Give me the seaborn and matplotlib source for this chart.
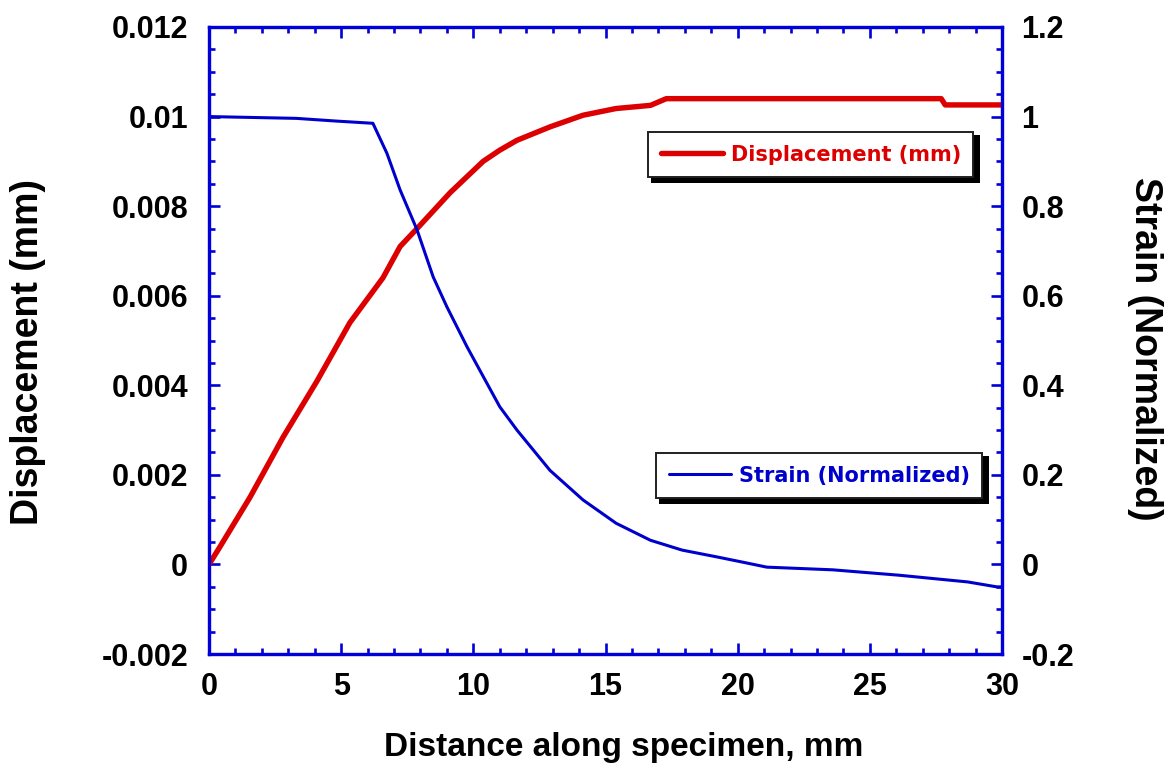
import numpy as np
import pandas as pd
import matplotlib
matplotlib.use("Agg")
import matplotlib.pyplot as plt
from matplotlib.ticker import MultipleLocator, FuncFormatter
from matplotlib.patches import Rectangle
from matplotlib.transforms import IdentityTransform
import seaborn as sns

# ---------------- data ----------------
dist_disp = [0, 0.42, 1.55, 2.8, 4.09, 5.33, 6.58, 7.23, 7.87, 9.12, 10.37,
             11.0, 11.65, 12.9, 14.15, 15.4, 16.7, 17.3, 27.7, 27.85, 30]
displacement = [0, 0.0004, 0.0015, 0.00284, 0.0041, 0.0054, 0.0064, 0.0071,
                0.0075, 0.0083, 0.0090, 0.00925, 0.00947, 0.00977, 0.01003,
                0.01018, 0.01025, 0.0104, 0.0104, 0.01026, 0.01026]

dist_strain = [0, 3.3, 4.8, 6.2, 6.73, 7.23, 7.87, 8.48, 9.0, 9.76, 10.37,
               11.0, 11.65, 12.9, 14.15, 15.4, 16.7, 17.9, 19.2, 20.2, 21.1,
               23.6, 26.1, 28.7, 29.8, 30]
strain = [1.0, 0.996, 0.99, 0.985, 0.918, 0.836, 0.747, 0.642, 0.575, 0.486,
          0.42, 0.352, 0.30, 0.21, 0.144, 0.092, 0.054, 0.032, 0.017, 0.005,
          -0.006, -0.012, -0.024, -0.039, -0.05, -0.05]

x_label = "Distance along specimen, mm"
y_left_label = "Displacement (mm)"
y_right_label = "Strain (Normalized)"
label_disp = "Displacement (mm)"
label_strain = "Strain (Normalized)"

# ---------------- style ----------------
sns.set_style("white")
plt.rcParams['font.family'] = ['Liberation Sans', 'DejaVu Sans']
plt.rcParams['text.color'] = 'black'
plt.rcParams['axes.labelcolor'] = 'black'
plt.rcParams['xtick.color'] = 'black'
plt.rcParams['ytick.color'] = 'black'

BLUE_AX = '#0000d8'
RED = '#dd0000'
BLUE = '#0000cc'

fig = plt.figure(figsize=(11.71, 7.69), dpi=100)
ax1 = fig.add_axes([0.1785, 0.1495, 0.6772, 0.8154])
ax2 = ax1.twinx()

df_d = pd.DataFrame({'x': dist_disp, 'y': displacement})
df_s = pd.DataFrame({'x': dist_strain, 'y': strain})
sns.lineplot(data=df_d, x='x', y='y', ax=ax1, color=RED, lw=3.9, legend=False,
             sort=False)
sns.lineplot(data=df_s, x='x', y='y', ax=ax2, color=BLUE, lw=2.2, legend=False,
             sort=False)

ax1.set_xlim(0, 30)
ax1.set_ylim(-0.002, 0.012)
ax2.set_ylim(-0.2, 1.2)

fmt = FuncFormatter(lambda v, p: f"{round(v, 6):g}")
ax1.xaxis.set_major_locator(MultipleLocator(5))
ax1.xaxis.set_minor_locator(MultipleLocator(1))
ax1.yaxis.set_major_locator(MultipleLocator(0.002))
ax1.yaxis.set_minor_locator(MultipleLocator(0.0005))
ax2.yaxis.set_major_locator(MultipleLocator(0.2))
ax2.yaxis.set_minor_locator(MultipleLocator(0.05))
ax1.xaxis.set_major_formatter(fmt)
ax1.yaxis.set_major_formatter(fmt)
ax2.yaxis.set_major_formatter(fmt)

for ax in (ax1, ax2):
    for s in ax.spines.values():
        s.set_color(BLUE_AX)
        s.set_linewidth(2.3)
ax1.tick_params(axis='x', which='both', direction='in', top=True, bottom=True,
                colors=BLUE_AX, labelcolor='black', pad=13, width=1.9)
ax1.tick_params(axis='y', which='both', direction='in', left=True, right=False,
                colors=BLUE_AX, labelcolor='black', pad=15, width=1.9)
ax2.tick_params(axis='y', which='both', direction='in', left=False, right=True,
                colors=BLUE_AX, labelcolor='black', pad=14, width=1.9)
for ax in (ax1, ax2):
    ax.tick_params(which='major', length=8)
    ax.tick_params(which='minor', length=4.5)
for lab in ax1.get_xticklabels() + ax1.get_yticklabels() + ax2.get_yticklabels():
    lab.set_fontsize(22)
    lab.set_fontweight('bold')

ax1.set_xlabel(x_label, fontsize=24, fontweight='bold')
ax1.xaxis.set_label_coords(0.523, -0.125)
ax1.set_ylabel(y_left_label, fontsize=27, fontweight='bold')
ax1.yaxis.set_label_coords(-0.205, 0.4817)
ax2.set_ylabel(y_right_label, fontsize=27, fontweight='bold', rotation=270)
ax2.yaxis.set_label_coords(1.203, 0.4864)
ax1.grid(False)
ax2.grid(False)

# ---------------- legends ----------------
leg_font = dict(family='DejaVu Sans', weight='bold', size=15)
common = dict(frameon=True, fancybox=False, framealpha=1, edgecolor='#202020',
              handlelength=3.0, handletextpad=0.35, borderpad=0.6,
              borderaxespad=0, prop=leg_font, loc='upper left')
leg1 = ax2.legend([ax1.lines[0]], [label_disp],
                  bbox_to_anchor=(0.554, 0.8325), **common)
leg1.get_texts()[0].set_color(RED)
leg1.get_frame().set_linewidth(1.4)
ax2.add_artist(leg1)
leg2 = ax2.legend([ax2.lines[0]], [label_strain],
                  bbox_to_anchor=(0.564, 0.3206), **common)
leg2.get_texts()[0].set_color(BLUE)
leg2.get_frame().set_linewidth(1.4)
leg1.set_zorder(6)
leg2.set_zorder(6)

fig.canvas.draw()
for leg in (leg1, leg2):
    bb = leg.get_frame().get_window_extent()
    sh = Rectangle((bb.x0 + 3, bb.y0 - 6), bb.width + 4, bb.height + 3,
                   transform=IdentityTransform(), facecolor='black',
                   edgecolor='none', zorder=5.5, clip_on=False)
    ax2.add_artist(sh)

fig.savefig("out.png", dpi=100, facecolor='white')
